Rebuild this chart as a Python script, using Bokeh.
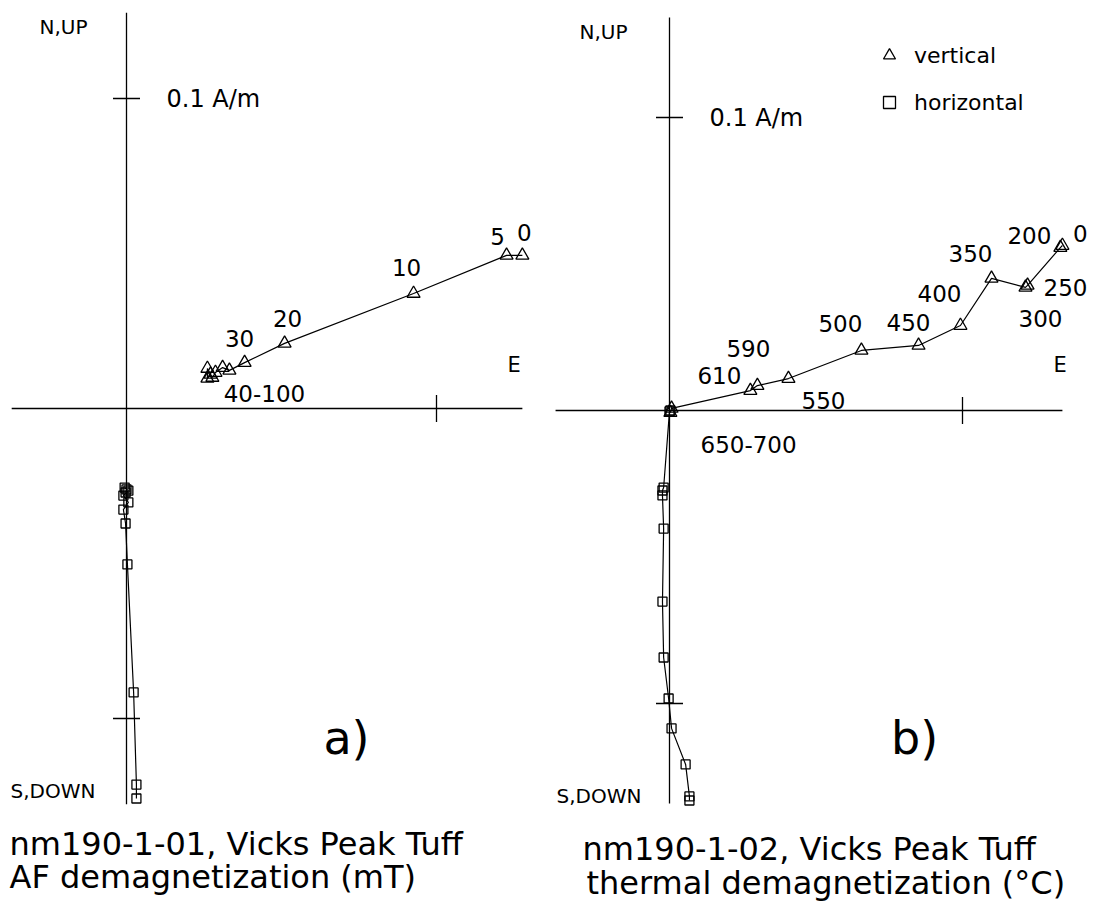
import math
from bokeh.plotting import figure
from bokeh.models import Range1d, Label, Legend, LegendItem, ColumnDataSource
from bokeh.layouts import row
from bokeh.embed import file_html
from bokeh.resources import INLINE
from bokeh.core.properties import value

FONT = "DejaVu Sans"
H = 907

# ---------------- data (A/m) ----------------
# a) AF demagnetization (mT)
af_steps = ["0", "5", "10", "20", "30", "40", "50", "60", "70", "80", "90", "100"]
af_vert_e = [0.1277, 0.1226, 0.0926, 0.0510, 0.0381, 0.0332, 0.0310, 0.0287, 0.0277, 0.0261, 0.0261, 0.0271]
af_vert_up = [0.0494, 0.0494, 0.0371, 0.0210, 0.0148, 0.0123, 0.0132, 0.0116, 0.0100, 0.0129, 0.0097, 0.0110]
af_hor_e = [0.0032, 0.0032, 0.0023, 0.0003, -0.0003, -0.0010, 0.0006, -0.0010, 0.0006, -0.0006, 0.0, -0.0003]
af_hor_n = [-0.1258, -0.1213, -0.0916, -0.0503, -0.0371, -0.0326, -0.0303, -0.0281, -0.0265, -0.0255, -0.0261, -0.0271]
af_labels = ["0", "5", "10", "20", "30", "40-100"]
af_label_step = [0, 1, 2, 3, 4, 5]

# b) thermal demagnetization (deg C)
th_steps = ["0", "200", "250", "300", "350", "400", "450", "500", "550", "590", "610", "650", "700"]
th_vert_e = [0.1341, 0.1334, 0.1222, 0.1215, 0.1099, 0.0993, 0.0850, 0.0655, 0.0406, 0.0300, 0.0276, 0.0007, 0.0003]
th_vert_up = [0.0563, 0.0556, 0.0427, 0.0420, 0.0451, 0.0290, 0.0222, 0.0205, 0.0109, 0.0085, 0.0068, 0.0007, -0.0007]
th_hor_e = [0.0068, 0.0068, 0.0055, 0.0007, -0.0003, -0.0020, -0.0024, -0.0020, -0.0024, -0.0024, -0.0020, 0.0, 0.0003]
th_hor_n = [-0.1331, -0.1317, -0.1208, -0.1085, -0.0983, -0.0843, -0.0652, -0.0403, -0.0290, -0.0273, -0.0263, -0.0003, 0.0]
th_labels = ["0", "200", "250", "300", "350", "400", "450", "500", "550", "590", "610", "650-700"]
th_label_step = [0, 1, 2, 3, 4, 5, 6, 7, 8, 9, 10, 11]

scale_tick = 0.1  # A/m

# ---------------- styling / layout ----------------
af_label_off = [(2, -23), (-9, -19), (-7, -26), (3, -25), (-5, -24), (35, 23)]
th_label_off = [(18, -12), (-31, -12), (38, 2), (15, 31), (-21, -25), (-21, -32), (-10, -23),
                (-21, -27), (35, 22), (-9, -37), (-31, -15), (77, 36)]


def lab(p, text, x, y, size, align="left", baseline="middle"):
    p.add_layout(Label(x=x, y=H - y, x_units="screen", y_units="screen", text=text,
                       text_font=FONT, text_font_size=size, text_align=align,
                       text_baseline=baseline, text_color="black"))


def panel(width, ox, oy, px_per_unit, ve, vu, he, hn, labels, lstep, loff,
          caption1, caption2, c1pos, c2pos, letter, letter_x, e_x, nup_x, sdown_x, sdown_y):
    x0 = -ox / px_per_unit
    x1 = (width - ox) / px_per_unit
    y1 = oy / px_per_unit
    y0 = (oy - H) / px_per_unit
    p = figure(width=width, height=H, x_range=Range1d(x0, x1), y_range=Range1d(y0, y1),
               output_backend="svg", toolbar_location=None, min_border=0,
               x_axis_location=None, y_axis_location=None, outline_line_color=None)
    p.xgrid.grid_line_color = None
    p.ygrid.grid_line_color = None

    M = max(abs(v) for v in ve + vu + he + hn)
    # Zijderveld axes
    p.segment(x0=[-0.29 * M, 0], y0=[0, -M], x1=[M, 0], y1=[0, M], line_color="black", line_width=1.3)
    p.scatter(x=[0, 0], y=[scale_tick, -scale_tick], marker="dash", size=27, line_color="black", line_width=1.3)
    p.scatter(x=[scale_tick], y=[0], marker="dash", size=27, angle=math.pi / 2, line_color="black", line_width=1.3)

    # data
    p.line(ve, vu, line_color="black", line_width=1.2)
    tri = p.scatter(ve, vu, marker="triangle", size=13, fill_color=None, line_color="black", line_width=1.3)
    p.line(he, hn, line_color="black", line_width=1.2)
    sq = p.scatter(he, hn, marker="square", size=9, fill_color=None, line_color="black", line_width=1.3)

    src = ColumnDataSource(dict(x=[ve[i] for i in lstep], y=[vu[i] for i in lstep], t=labels,
                                dx=[o[0] for o in loff], dy=[o[1] for o in loff]))
    p.text(x="x", y="y", text="t", x_offset="dx", y_offset="dy", source=src,
           text_font=value(FONT), text_font_size="23px", text_align="center",
           text_baseline="middle", text_color="black")

    # scale label
    p.text(x=[0], y=[scale_tick], text=["0.1 A/m"], x_offset=40, text_font=value(FONT),
           text_font_size="24px", text_align="left", text_baseline="middle", text_color="black")

    lab(p, "N,UP", nup_x, oy - M * px_per_unit + 14, "20px")
    lab(p, "S,DOWN", sdown_x, sdown_y, "20px")
    lab(p, "E", e_x, 364, "21px")
    lab(p, letter, letter_x, 737, "46px", align="center")
    lab(p, caption1, c1pos[0], c1pos[1], "32px")
    lab(p, caption2, c2pos[0], c2pos[1], "32px")
    return p, tri, sq


pa, _, _ = panel(548, 126, 408, 3100, af_vert_e, af_vert_up, af_hor_e, af_hor_n,
                 af_labels, af_label_step, af_label_off,
                 "nm190-1-01, Vicks Peak Tuff", "AF demagnetization (mT)",
                 (9, 843), (9, 876), "a)", 346, 507, 39, 10, 790)

pb, tri_b, sq_b = panel(549, 121, 410, 2930, th_vert_e, th_vert_up, th_hor_e, th_hor_n,
                        th_labels, th_label_step, th_label_off,
                        "nm190-1-02, Vicks Peak Tuff", "thermal demagnetization (°C)",
                        (34, 848), (38, 882), "b)", 366, 505, 31, 8, 795)

legend = Legend(items=[LegendItem(label="vertical", renderers=[tri_b]),
                       LegendItem(label="horizontal", renderers=[sq_b])],
                location=(326, 790), orientation="vertical",
                glyph_width=30, glyph_height=30, spacing=17, label_standoff=10,
                padding=0, margin=0, border_line_color=None, background_fill_alpha=0,
                label_text_font=FONT, label_text_font_size="22px", label_text_color="black")
pb.add_layout(legend)

layout = row(pa, pb, spacing=0)
open("out.html", "w").write(file_html(layout, INLINE))
